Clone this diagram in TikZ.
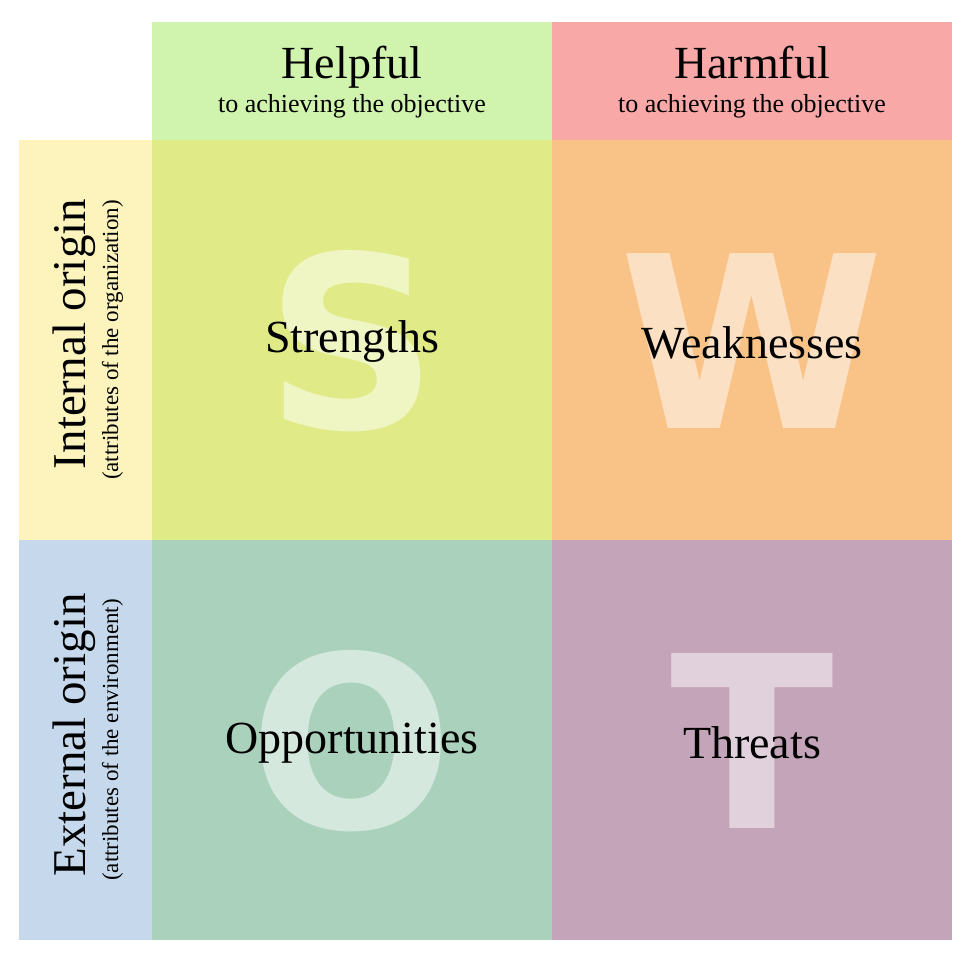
\documentclass[tikz,border=0pt]{standalone}
\usepackage{fontspec}
\setmainfont{Liberation Serif}
\newfontfamily\letterfont{DejaVu Sans Bold}
\definecolor{helpfulc}{HTML}{D0F3AE}
\definecolor{harmfulc}{HTML}{F9A8A8}
\definecolor{internalc}{HTML}{FCF4BC}
\definecolor{externalc}{HTML}{C6D9EC}
\definecolor{strengthc}{HTML}{E0EB88}
\definecolor{weaknessc}{HTML}{F9C287}
\definecolor{opportunityc}{HTML}{AAD1BB}
\definecolor{threatc}{HTML}{C4A4B9}
\tikzset{
  cell/.style={inner sep=0pt, outer sep=0pt, minimum width=400pt, minimum height=400pt},
  bigletter/.style={anchor=base, inner sep=0pt, text=white, text opacity=0.5,
    font=\letterfont\fontsize{240}{240}\selectfont},
  quadtext/.style={anchor=base, inner sep=0pt, font=\fontsize{46}{50}\selectfont},
  subtext/.style={anchor=base, inner sep=0pt, font=\fontsize{26}{30}\selectfont},
  sidetext/.style={anchor=base, inner sep=0pt, rotate=90, font=\fontsize{47}{50}\selectfont},
  sidesub/.style={anchor=base, inner sep=0pt, rotate=90, font=\fontsize{23}{26}\selectfont}
}
\begin{document}
\begin{tikzpicture}[x=1pt,y=-1pt]
  \useasboundingbox (0,0) rectangle (972,962);
  \node[cell, fill=strengthc] (S) at (352,340) {};
  \node[cell, fill=weaknessc] (W) at (752,340) {};
  \node[cell, fill=opportunityc] (O) at (352,740) {};
  \node[cell, fill=threatc] (T) at (752,740) {};
  \node[cell, minimum height=118pt, anchor=south, fill=helpfulc] (help) at (S.north) {};
  \node[cell, minimum height=118pt, anchor=south, fill=harmfulc] (harm) at (W.north) {};
  \node[cell, minimum width=133pt, anchor=east, fill=internalc] (int) at (S.west) {};
  \node[cell, minimum width=133pt, anchor=east, fill=externalc] (ext) at (O.west) {};

  \node[bigletter] (Sbig) at ([yshift=-88pt]S.center) {S};
  \node[bigletter] (Wbig) at ([yshift=-88pt]W.center) {W};
  \node[bigletter] (Obig) at ([yshift=-88pt]O.center) {O};
  \node[bigletter] (Tbig) at ([yshift=-88pt]T.center) {T};

  \node[quadtext] (Slab) at ([yshift=-12pt]S.center) {Strengths};
  \node[quadtext] (Wlab) at ([yshift=-18pt]W.center) {Weaknesses};
  \node[quadtext] (Olab) at ([yshift=-13pt]O.center) {Opportunities};
  \node[quadtext] (Tlab) at ([yshift=-18pt]T.center) {Threats};

  \node[quadtext] (helpt) at ([yshift=3pt]help.center) {Helpful};
  \node[subtext] (helps) at ([yshift=-31pt]help.center) {to achieving the objective};
  \node[quadtext] (harmt) at ([yshift=3pt]harm.center) {Harmful};
  \node[subtext] (harms) at ([yshift=-31pt]harm.center) {to achieving the objective};

  \node[sidetext] (intt) at ([yshift=6pt]int.center) {Internal origin};
  \node[sidesub] (ints) at ([xshift=32.5pt]int.center) {(attributes of the organization)};
  \node[sidetext] (extt) at ([yshift=5pt]ext.center) {External origin};
  \node[sidesub] (exts) at ([xshift=32.5pt]ext.center) {(attributes of the environment)};
\end{tikzpicture}
\end{document}
